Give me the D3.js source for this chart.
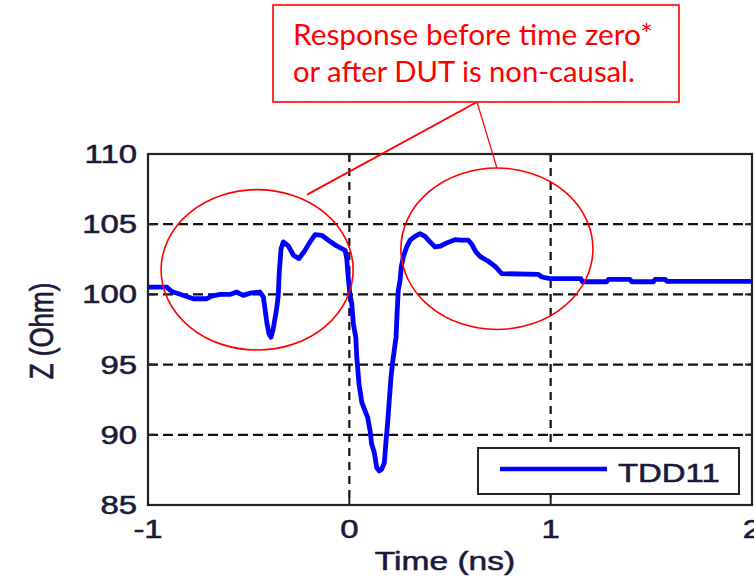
<!DOCTYPE html>
<html>
<head>
<meta charset="utf-8">
<script src="https://cdn.jsdelivr.net/npm/d3@7"></script>
<style>
  html, body { margin: 0; padding: 0; background: #fff; }
  svg { display: block; }
</style>
</head>
<body>
<svg id="chart" width="754" height="580"></svg>
<script>
// TDD11 impedance trace: time (ns) and impedance (Ohm)
const timeNs = [
  -1.000, -0.907, -0.882, -0.833, -0.775, -0.708, -0.684, -0.642, -0.593, -0.559,
  -0.527, -0.493, -0.444, -0.427, -0.419, -0.410, -0.399, -0.389, -0.378, -0.361,
  -0.353, -0.348, -0.339, -0.328, -0.303, -0.278, -0.250, -0.220, -0.195, -0.170,
  -0.137, -0.104, -0.063, -0.021, -0.013, -0.005, 0.003, 0.012, 0.020, 0.032,
  0.037, 0.048, 0.062, 0.078, 0.091, 0.103, 0.111, 0.124, 0.136, 0.148,
  0.161, 0.174, 0.181, 0.191, 0.197, 0.207, 0.214, 0.224, 0.232, 0.237,
  0.243, 0.252, 0.258, 0.268, 0.285, 0.302, 0.326, 0.351, 0.376, 0.401,
  0.426, 0.451, 0.484, 0.525, 0.558, 0.591, 0.608, 0.629, 0.649, 0.690,
  0.724, 0.757, 0.939, 0.956, 0.997, 1.150, 1.157, 1.279, 1.287, 1.394,
  1.403, 1.510, 1.519, 1.568, 1.579, 2.000
];
const zOhm = [
  100.52, 100.52, 100.21, 99.98, 99.69, 99.69, 99.88, 100.00, 100.00, 100.17,
  99.93, 100.09, 100.17, 99.81, 98.98, 98.02, 97.19, 96.95, 97.55, 98.98,
  99.93, 101.59, 103.26, 103.74, 103.45, 102.79, 102.55, 103.14, 103.74, 104.26,
  104.21, 103.86, 103.45, 103.14, 102.55, 101.12, 100.00, 99.33, 97.90, 96.95,
  95.52, 93.62, 92.31, 91.71, 91.24, 90.29, 89.33, 88.74, 87.67, 87.43,
  87.55, 88.02, 89.33, 91.00, 92.19, 94.09, 95.05, 96.12, 96.95, 98.62,
  100.29, 101.00, 101.95, 102.67, 103.38, 103.86, 104.14, 104.33, 104.14, 103.74,
  103.38, 103.43, 103.67, 103.90, 103.86, 103.86, 103.57, 103.02, 102.71, 102.36,
  102.00, 101.48, 101.43, 101.24, 101.12, 101.12, 100.90, 100.90, 101.07, 101.07,
  100.90, 100.90, 101.07, 101.07, 100.93, 100.93
];

const xTicks = [-1, 0, 1, 2];
const yTicks = [85, 90, 95, 100, 105, 110];
const xGrid = [0, 1];
const yGrid = [90, 95, 100, 105];

const seriesName = "TDD11";
const xLabel = "Time (ns)";
const yLabel = "Z (Ohm)";
const noteLines = ["Response before time zero*", "or after DUT is non-causal."];

// Regions flagged as non-causal: [centre time, centre Z, half-width time, half-height Z]
const noteRegions = [
  [-0.458, 101.75, 0.477, 5.71],
  [0.733, 103.25, 0.477, 5.75]
];

const svg = d3.select("#chart");
const plot = { left: 148, right: 752, top: 154, bottom: 505 };

const x = d3.scaleLinear().domain([-1, 2]).range([plot.left, plot.right]);
const y = d3.scaleLinear().domain([85, 110]).range([plot.bottom, plot.top]);

const textColor = "#1a1a3a";
const font = "Arial, 'Liberation Sans', Helvetica, sans-serif";
const stretch = 1.29;

svg.append("defs").append("clipPath").attr("id", "plot-clip")
  .append("rect")
  .attr("x", plot.left).attr("y", plot.top)
  .attr("width", plot.right - plot.left).attr("height", plot.bottom - plot.top);

// dashed grid
svg.append("g").selectAll("line").data(xGrid).join("line")
  .attr("x1", d => x(d)).attr("x2", d => x(d))
  .attr("y1", plot.top).attr("y2", plot.bottom)
  .attr("stroke", "#111").attr("stroke-width", 2.2)
  .attr("stroke-dasharray", "8,6");
svg.append("g").selectAll("line").data(yGrid).join("line")
  .attr("x1", plot.left).attr("x2", plot.right)
  .attr("y1", d => y(d)).attr("y2", d => y(d))
  .attr("stroke", "#111").attr("stroke-width", 2.2)
  .attr("stroke-dasharray", "10,5");

// inward tick marks on all sides
const tickLen = 7;
const xInner = xTicks.filter(d => d > -1 && d < 2);
const yInner = yTicks.filter(d => d > 85 && d < 110);
const ticks = svg.append("g").attr("stroke", "#222").attr("stroke-width", 2);
xInner.forEach(d => {
  ticks.append("line").attr("x1", x(d)).attr("x2", x(d)).attr("y1", plot.bottom).attr("y2", plot.bottom - tickLen);
  ticks.append("line").attr("x1", x(d)).attr("x2", x(d)).attr("y1", plot.top).attr("y2", plot.top + tickLen);
});
yInner.forEach(d => {
  ticks.append("line").attr("x1", plot.left).attr("x2", plot.left + tickLen).attr("y1", y(d)).attr("y2", y(d));
  ticks.append("line").attr("x1", plot.right).attr("x2", plot.right - tickLen).attr("y1", y(d)).attr("y2", y(d));
});

// the trace
const data = timeNs.map((t, i) => [t, zOhm[i]]);
svg.append("path")
  .datum(data)
  .attr("clip-path", "url(#plot-clip)")
  .attr("fill", "none")
  .attr("stroke", "#0000ff")
  .attr("stroke-width", 4.8)
  .attr("stroke-linejoin", "round")
  .attr("d", d3.line().x(d => x(d[0])).y(d => y(d[1])));

// axes frame
svg.append("rect")
  .attr("x", plot.left).attr("y", plot.top)
  .attr("width", plot.right - plot.left).attr("height", plot.bottom - plot.top)
  .attr("fill", "none").attr("stroke", "#222").attr("stroke-width", 2.2);

// horizontally stretched text helper
function stretchedText(px, py, str, size, anchor, rotate) {
  const g = svg.append("g")
    .attr("transform", `translate(${px},${py}) scale(${stretch},1)` + (rotate ? ` rotate(${rotate})` : ""));
  g.append("text")
    .attr("x", 0).attr("y", 0)
    .attr("text-anchor", anchor)
    .attr("font-family", font)
    .attr("font-size", size)
    .attr("fill", textColor)
    .attr("stroke", textColor)
    .attr("stroke-width", 0.55)
    .text(str);
  return g;
}

// tick labels
yTicks.forEach(d => stretchedText(137, y(d) + 9, String(d), 25.5, "end"));
xTicks.forEach(d => stretchedText(x(d), 538, String(d), 25.5, "middle"));

// axis titles
stretchedText(445, 570, xLabel, 26, "middle");
stretchedText(53, 331, yLabel, 26, "middle", -90);

// legend
const lg = { x: 478, y: 448, w: 261, h: 46 };
svg.append("rect")
  .attr("x", lg.x).attr("y", lg.y).attr("width", lg.w).attr("height", lg.h)
  .attr("fill", "#fff").attr("stroke", "#222").attr("stroke-width", 2);
svg.append("line")
  .attr("x1", lg.x + 22).attr("x2", lg.x + 129)
  .attr("y1", lg.y + 21).attr("y2", lg.y + 21)
  .attr("stroke", "#0000ff").attr("stroke-width", 4.5);
stretchedText(lg.x + 140, lg.y + 34, seriesName, 25.5, "start");

// annotation: ellipses around the non-causal regions
const red = "#ff0000";
noteRegions.forEach(r => {
  svg.append("ellipse")
    .attr("cx", x(r[0])).attr("cy", y(r[1]))
    .attr("rx", x(r[0] + r[2]) - x(r[0]))
    .attr("ry", y(r[1] - r[3]) - y(r[1]))
    .attr("fill", "none").attr("stroke", red).attr("stroke-width", 1.6);
});

// callout box and text
const box = { x: 273, y: 5, w: 406, h: 97 };
svg.append("rect")
  .attr("x", box.x).attr("y", box.y).attr("width", box.w).attr("height", box.h)
  .attr("fill", "#fff").attr("stroke", red).attr("stroke-width", 1.6);

const noteWidths = [360, 342];
noteLines.forEach((line, i) => {
  const t = svg.append("text")
    .attr("x", 293).attr("y", 45 + i * 37)
    .attr("font-family", "Lato, 'Open Sans', sans-serif")
    .attr("font-size", 28)
    .attr("fill", red)
    .text(line);
  const w = t.node().getComputedTextLength();
  if (w > 0) t.attr("font-size", 28 * noteWidths[i] / w);
});

// leader lines from the callout to each ellipse
const anchor = [477, box.y + box.h];
const leaderEnds = [
  [x(noteRegions[0][0]) + 50, y(noteRegions[0][1] + noteRegions[0][3]) + 5],
  [x(noteRegions[1][0]), y(noteRegions[1][1] + noteRegions[1][3])]
];
leaderEnds.forEach((p, i) => {
  svg.append("line")
    .attr("x1", anchor[0]).attr("y1", anchor[1])
    .attr("x2", p[0]).attr("y2", p[1])
    .attr("stroke", red).attr("stroke-width", i === 0 ? 1.8 : 1.2);
});
</script>
</body>
</html>
